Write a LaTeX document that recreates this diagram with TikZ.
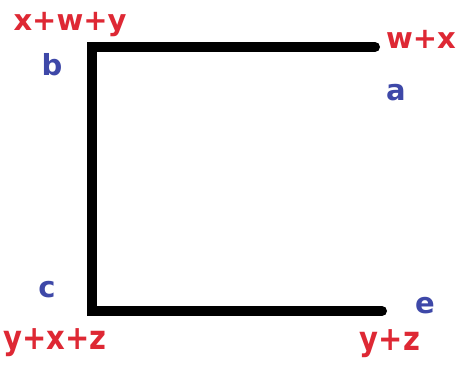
\documentclass[tikz,border=0pt]{standalone}
\usepackage{fontspec}
\setmainfont{DejaVu Sans}
\definecolor{lblred}{RGB}{222,40,52}
\definecolor{lblblue}{RGB}{62,72,168}
\begin{document}
\begin{tikzpicture}[x=1pt,y=-1pt,
  redlbl/.style={text=lblred,font=\fontsize{29}{32}\selectfont\bfseries,anchor=base,inner sep=0pt},
  bluelbl/.style={text=lblblue,font=\fontsize{29}{32}\selectfont\bfseries,anchor=base,inner sep=0pt},
  bar/.style={line width=10pt,line cap=round,line join=miter}]
\useasboundingbox[fill=white] (0,0) rectangle (462,367);
\coordinate (pa) at (375,47);
\coordinate (pb) at (92,47);
\coordinate (pc) at (92,311);
\coordinate (pe) at (382,311);
\draw[bar] (pa) -- (pb) -- (pc) -- (pe);
\node[redlbl] (lxwy) at (70,30) {x+w+y};
\node[redlbl] (lwx) at (421,48) {w+x};
\node[bluelbl] (lb) at (52,75) {b};
\node[bluelbl] (la) at (396,100) {a};
\node[bluelbl] (lc) at (47,297) {c};
\node[bluelbl] (le) at (425,313) {e};
\node[redlbl,yscale=1.15] (lyxz) at (55,349) {y+x+z};
\node[redlbl,yscale=1.15] (lyz) at (390,350) {y+z};
\end{tikzpicture}
\end{document}
